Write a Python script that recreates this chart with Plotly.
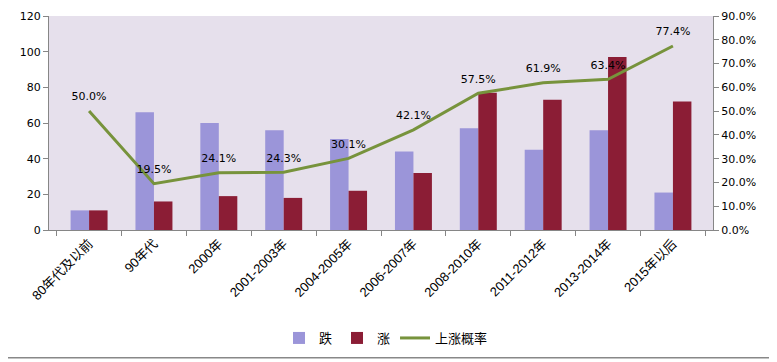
import plotly.graph_objects as go

categories = ["80年代及以前", "90年代", "2000年", "2001-2003年", "2004-2005年",
              "2006-2007年", "2008-2010年", "2011-2012年", "2013-2014年", "2015年以后"]
fall = [11, 66, 60, 56, 51, 44, 57, 45, 56, 21]
rise = [11, 16, 19, 18, 22, 32, 77, 73, 97, 72]
rise_prob = [0.500, 0.195, 0.241, 0.243, 0.301, 0.421, 0.575, 0.619, 0.634, 0.774]
prob_labels = [f"{v*100:.1f}%" for v in rise_prob]

# page body has an 8px offset; figure covers the rest of the window
OFF = 8
W, H = 777 - OFF, 362 - OFF
L, R, T, B = 49 - OFF, 713 - OFF, 15.5 - OFF, 230 - OFF
pw, ph = R - L, B - T

def px_x(x):
    return (x - OFF - L) / pw

def px_y(y):
    return (B - (y - OFF)) / ph

tick_font = dict(family="DejaVu Sans, Noto Sans CJK SC", size=11, color="#000000")
cjk_font = dict(family="Liberation Sans, Noto Sans CJK SC", size=13, color="#000000")

fig = go.Figure()
fig.add_trace(go.Bar(x=categories, y=fall, name="跌", marker=dict(color="#9B95D9", line=dict(width=0))))
fig.add_trace(go.Bar(x=categories, y=rise, name="涨", marker=dict(color="#8B1D35", line=dict(width=0))))
fig.add_trace(go.Scatter(x=categories, y=rise_prob, name="上涨概率", yaxis="y2",
                         mode="lines+markers+text", text=prob_labels, textposition="top center",
                         textfont=dict(family="DejaVu Sans", size=11, color="#000000"),
                         marker=dict(size=11, color="rgba(0,0,0,0)"),
                         line=dict(color="#77933C", width=3)))

fig.update_layout(
    width=W, height=H,
    margin=dict(l=L, r=W - R, t=T, b=H - B, autoexpand=False),
    paper_bgcolor="#FFFFFF", plot_bgcolor="#E6E0EC",
    barmode="group", bargap=0.43, bargroupgap=0,
    showlegend=True,
    legend=dict(orientation="h", xref="container", yref="container",
                x=(386 - OFF) / W, xanchor="center", y=(362 - 338) / H, yanchor="middle",
                font=cjk_font, itemwidth=30, tracegroupgap=0, bgcolor="rgba(0,0,0,0)"),
    xaxis=dict(type="category", tickangle=-45, tickfont=cjk_font, showline=True,
               linecolor="#868686", linewidth=1, ticks="outside", tickson="boundaries",
               ticklen=5, tickcolor="#868686", showgrid=False, zeroline=False, automargin=False),
    yaxis=dict(range=[0, 120], dtick=20, tickfont=tick_font, showline=True,
               linecolor="#868686", linewidth=1, ticks="outside", ticklen=5,
               tickcolor="#868686", showgrid=False, zeroline=False, automargin=False),
    yaxis2=dict(range=[0, 0.9], dtick=0.1, tickformat=".1%", overlaying="y", side="right",
                tickfont=tick_font, showline=True, linecolor="#868686", linewidth=1,
                ticks="outside", ticklen=5, tickcolor="#868686", showgrid=False, zeroline=False,
                automargin=False),
    shapes=[dict(type="rect", xref="paper", yref="paper",
                 x0=px_x(2), x1=px_x(774), y0=px_y(358), y1=px_y(1),
                 line=dict(color="#888888", width=1.5), fillcolor="rgba(0,0,0,0)", layer="below")],
)

fig.write_html("out.html")
